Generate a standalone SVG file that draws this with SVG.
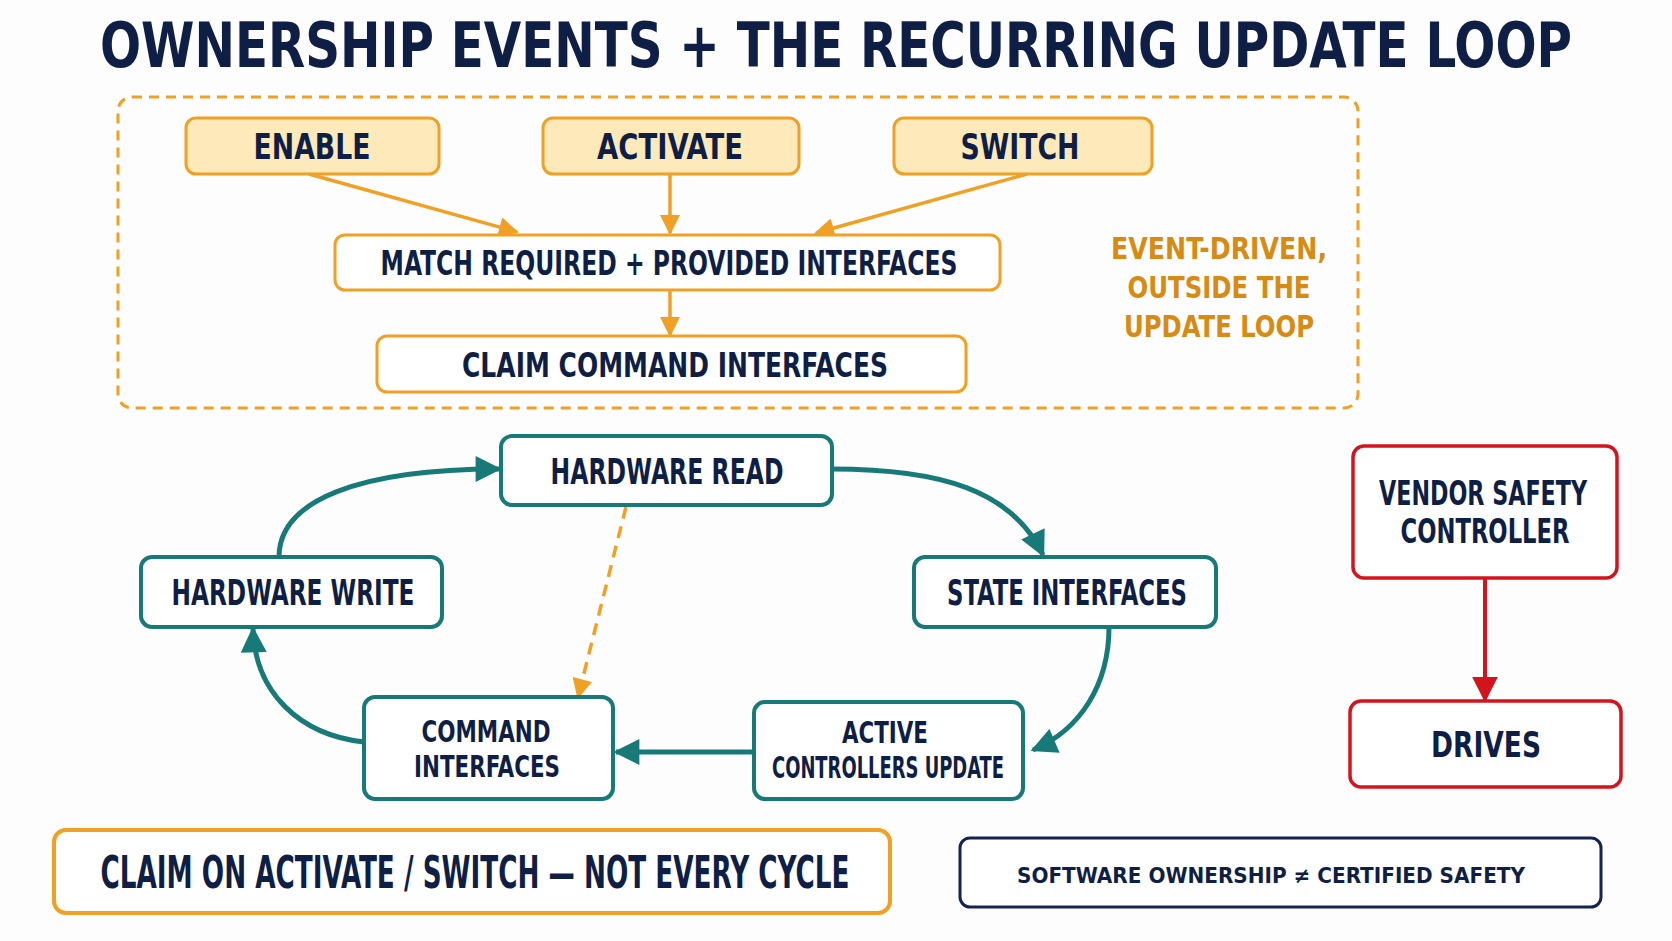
<svg xmlns="http://www.w3.org/2000/svg" width="1672" height="941" viewBox="0 0 1672 941">
<defs>
<style>
text{font-family:"Liberation Sans Narrow","DejaVu Sans Condensed","Liberation Sans",sans-serif;font-weight:bold;fill:#0f1e44;text-anchor:middle}
.ev rect{fill:#fde9b9;stroke:#f0a024;stroke-width:3}
.ob rect{fill:#fff;stroke:#f0a024;stroke-width:3}
.tb rect{fill:#fff;stroke:#177a79;stroke-width:4}
.rb rect{fill:#fff;stroke:#d3141d;stroke-width:3.5}
.lbl{font-size:36px}
.two{font-size:30px}
.note{font-size:31px;fill:#d68b14}
.oc{stroke:#f0a024;stroke-width:3.5;fill:none}
.tc{stroke:#177a79;stroke-width:5;fill:none}
.rc{stroke:#d3141d;stroke-width:4;fill:none}
</style>
<marker id="ao" viewBox="0 0 10 10" refX="9" refY="5" markerWidth="22" markerHeight="20" markerUnits="userSpaceOnUse" orient="auto"><path d="M0,0 L10,5 L0,10 z" fill="#f0a024"/></marker>
<marker id="at" viewBox="0 0 10 10" refX="9" refY="5" markerWidth="28" markerHeight="26" markerUnits="userSpaceOnUse" orient="auto"><path d="M0,0 L10,5 L0,10 z" fill="#177a79"/></marker>
<marker id="ar" viewBox="0 0 10 10" refX="9" refY="5" markerWidth="26" markerHeight="28" markerUnits="userSpaceOnUse" orient="auto"><path d="M0,0 L10,5 L0,10 z" fill="#d3141d"/></marker>
</defs>
<rect width="1672" height="941" fill="#fdfdfd"/>
<text x="836" y="67" font-size="62" textLength="1472" lengthAdjust="spacingAndGlyphs">OWNERSHIP EVENTS + THE RECURRING UPDATE LOOP</text>

<rect x="118" y="97" width="1240" height="311" rx="14" fill="none" stroke="#f0a024" stroke-width="3" stroke-dasharray="10 7"/>

<g id="connectors">
<line class="oc" x1="309" y1="174" x2="517" y2="232" marker-end="url(#ao)"/>
<line class="oc" x1="670" y1="174" x2="670" y2="233" marker-end="url(#ao)"/>
<line class="oc" x1="1027" y1="174" x2="816" y2="233" marker-end="url(#ao)"/>
<line class="oc" x1="670" y1="290" x2="670" y2="335" marker-end="url(#ao)"/>
<path class="tc" d="M279 557 C279 500 360 469 499 469" marker-end="url(#at)"/>
<path class="tc" d="M832 469 C940 469 1012 490 1043 555" marker-end="url(#at)"/>
<path class="tc" d="M1109 627 C1109 685 1080 730 1033 750" marker-end="url(#at)"/>
<line class="tc" x1="754" y1="752" x2="616" y2="752" marker-end="url(#at)"/>
<path class="tc" d="M364 742 C300 735 255 693 253 629" marker-end="url(#at)"/>
<line class="oc" x1="626" y1="507" x2="578" y2="697" stroke-dasharray="12 8" stroke-width="3" marker-end="url(#ao)"/>
<line class="rc" x1="1485" y1="578" x2="1485" y2="700" marker-end="url(#ar)"/>
</g>

<g id="enable" class="ev"><rect x="186" y="118" width="253" height="56" rx="10"/><text class="lbl" x="312" y="159" textLength="117" lengthAdjust="spacingAndGlyphs">ENABLE</text></g>
<g id="activate" class="ev"><rect x="543" y="118" width="256" height="56" rx="10"/><text class="lbl" x="670" y="159" textLength="146" lengthAdjust="spacingAndGlyphs">ACTIVATE</text></g>
<g id="switch" class="ev"><rect x="894" y="118" width="258" height="56" rx="10"/><text class="lbl" x="1020" y="159" textLength="119" lengthAdjust="spacingAndGlyphs">SWITCH</text></g>
<g id="match" class="ob"><rect x="335" y="235" width="665" height="55" rx="10"/><text x="669" y="275" font-size="34" textLength="577" lengthAdjust="spacingAndGlyphs">MATCH REQUIRED + PROVIDED INTERFACES</text></g>
<g id="claim" class="ob"><rect x="377" y="336" width="589" height="56" rx="10"/><text x="675" y="377" font-size="34" textLength="426" lengthAdjust="spacingAndGlyphs">CLAIM COMMAND INTERFACES</text></g>
<g id="eventnote">
<text class="note" x="1219" y="259" textLength="216" lengthAdjust="spacingAndGlyphs">EVENT-DRIVEN,</text>
<text class="note" x="1219" y="298" textLength="183" lengthAdjust="spacingAndGlyphs">OUTSIDE THE</text>
<text class="note" x="1219" y="337" textLength="190" lengthAdjust="spacingAndGlyphs">UPDATE LOOP</text>
</g>

<g id="hwread" class="tb"><rect x="501" y="436" width="331" height="69" rx="11"/><text class="lbl" x="667" y="484" textLength="233" lengthAdjust="spacingAndGlyphs">HARDWARE READ</text></g>
<g id="state" class="tb"><rect x="914" y="557" width="302" height="70" rx="11"/><text class="lbl" x="1067" y="605" textLength="240" lengthAdjust="spacingAndGlyphs">STATE INTERFACES</text></g>
<g id="active" class="tb"><rect x="754" y="702" width="269" height="97" rx="11"/>
<text class="two" x="885" y="743" textLength="86" lengthAdjust="spacingAndGlyphs">ACTIVE</text>
<text class="two" x="888" y="778" textLength="232" lengthAdjust="spacingAndGlyphs">CONTROLLERS UPDATE</text></g>
<g id="command" class="tb"><rect x="364" y="697" width="249" height="102" rx="11"/>
<text class="two" x="486" y="742" textLength="129" lengthAdjust="spacingAndGlyphs">COMMAND</text>
<text class="two" x="487" y="777" textLength="146" lengthAdjust="spacingAndGlyphs">INTERFACES</text></g>
<g id="hwwrite" class="tb"><rect x="141" y="557" width="301" height="70" rx="11"/><text class="lbl" x="293" y="605" textLength="243" lengthAdjust="spacingAndGlyphs">HARDWARE WRITE</text></g>

<g id="vendor" class="rb"><rect x="1353" y="446" width="264" height="132" rx="11"/>
<text x="1483" y="505" font-size="33" textLength="208" lengthAdjust="spacingAndGlyphs">VENDOR SAFETY</text>
<text x="1485" y="543" font-size="33" textLength="169" lengthAdjust="spacingAndGlyphs">CONTROLLER</text></g>
<g id="drives" class="rb"><rect x="1350" y="701" width="271" height="86" rx="11"/><text x="1486" y="757" font-size="36" textLength="110" lengthAdjust="spacingAndGlyphs">DRIVES</text></g>

<g id="claimnote"><rect x="54" y="830" width="836" height="83" rx="12" fill="#fff" stroke="#f0a024" stroke-width="4"/><text x="475" y="888" font-size="45" textLength="749" lengthAdjust="spacingAndGlyphs">CLAIM ON ACTIVATE / SWITCH — NOT EVERY CYCLE</text></g>
<g id="safetynote"><rect x="960" y="838" width="641" height="69" rx="10" fill="#fff" stroke="#14244e" stroke-width="3"/><text x="1271" y="883" font-size="22" textLength="508" lengthAdjust="spacingAndGlyphs">SOFTWARE OWNERSHIP ≠ CERTIFIED SAFETY</text></g>
</svg>
